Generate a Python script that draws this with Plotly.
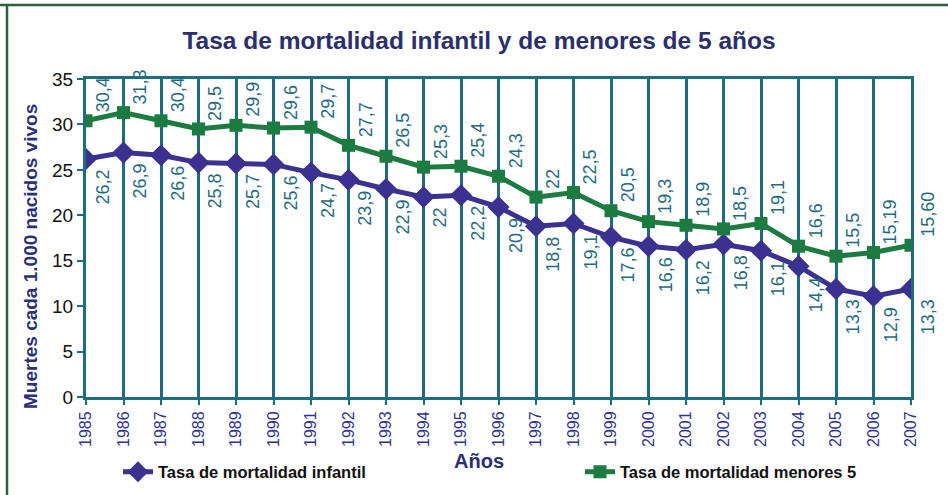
import plotly.graph_objects as go

years = list(range(1985, 2008))
infantil = [26.2, 26.9, 26.6, 25.8, 25.7, 25.6, 24.7, 23.9, 22.9, 22.0, 22.2, 20.9,
            18.8, 19.1, 17.6, 16.6, 16.2, 16.8, 16.1, 14.4, 11.9, 11.1, 11.9]
menores5 = [30.4, 31.3, 30.4, 29.5, 29.9, 29.6, 29.7, 27.7, 26.5, 25.3, 25.4, 24.3,
            22.0, 22.5, 20.5, 19.3, 18.9, 18.5, 19.1, 16.6, 15.5, 15.9, 16.7]
infantil_labels = ["26,2", "26,9", "26,6", "25,8", "25,7", "25,6", "24,7", "23,9", "22,9", "22",
                   "22,2", "20,9", "18,8", "19,1", "17,6", "16,6", "16,2", "16,8", "16,1", "14,4",
                   "13,3", "12,9", "13,3"]
menores5_labels = ["30,4", "31,3", "30,4", "29,5", "29,9", "29,6", "29,7", "27,7", "26,5", "25,3",
                   "25,4", "24,3", "22", "22,5", "20,5", "19,3", "18,9", "18,5", "19,1", "16,6",
                   "15,5", "15,19", "15,60"]

NAVY = "#3a3190"
GREEN = "#1c7b40"
TEAL = "#1f6b80"
FONT = "Liberation Sans, Arial, sans-serif"

fig = go.Figure()
fig.add_trace(go.Scatter(
    x=years, y=infantil, mode="lines+markers", name="Tasa de mortalidad infantil",
    line=dict(color=NAVY, width=5), marker=dict(symbol="diamond", size=17, color=NAVY),
    legend="legend",
))
fig.add_trace(go.Scatter(
    x=years, y=menores5, mode="lines+markers", name="Tasa de mortalidad menores 5",
    line=dict(color=GREEN, width=5), marker=dict(symbol="square", size=13, color=GREEN),
    legend="legend2",
))

ann = []
for x, y, t in zip(years, menores5, menores5_labels):
    ann.append(dict(x=x, y=y, text=t, showarrow=False, textangle=-90,
                    xanchor="left", yanchor="bottom", xshift=5, yshift=6,
                    font=dict(family=FONT, size=18, color=TEAL)))
for x, y, t in zip(years, infantil, infantil_labels):
    ann.append(dict(x=x, y=y, text=t, showarrow=False, textangle=-90,
                    xanchor="left", yanchor="top", xshift=5, yshift=-9,
                    font=dict(family=FONT, size=18, color=TEAL)))

ann.append(dict(xref="paper", yref="paper", x=(479 - 86) / 825, y=(397 - 461) / 318,
                text="<b>Años</b>", showarrow=False, xanchor="center", yanchor="middle",
                font=dict(family=FONT, size=20, color="#2b2f78")))
ann.append(dict(xref="paper", yref="paper", x=(30 - 86) / 825, y=(397 - 257) / 318,
                text="<b>Muertes cada 1.000 nacidos vivos</b>", showarrow=False, textangle=-90,
                xanchor="center", yanchor="middle",
                font=dict(family=FONT, size=19, color="#2b2f78")))

shapes = [
    dict(type="line", xref="paper", yref="paper", x0=(0 - 86) / 825, x1=(948 - 86) / 825,
         y0=(397 - 5) / 318, y1=(397 - 5) / 318, line=dict(color="#2a6040", width=2.5)),
    dict(type="line", xref="paper", yref="paper", x0=(7 - 86) / 825, x1=(7 - 86) / 825,
         y0=(397 - 5) / 318, y1=(397 - 500) / 318, line=dict(color="#2a6040", width=2.5)),
]

legfont = dict(family=FONT, size=16.5, color="#111111", weight="bold")

fig.update_layout(
    width=948, height=495,
    margin=dict(l=86, r=37, t=79, b=98, autoexpand=False),
    paper_bgcolor="white", plot_bgcolor="white",
    title=dict(text="<b>Tasa de mortalidad infantil y de menores de 5 años</b>",
               x=479 / 948, xanchor="center", xref="container",
               y=1 - 40 / 495, yanchor="middle", yref="container",
               font=dict(family=FONT, size=24.5, color="#2b2f6b")),
    showlegend=True,
    legend=dict(orientation="h", x=(118 - 86) / 825, xanchor="left",
                y=(397 - 472) / 318, yanchor="middle",
                font=legfont, bgcolor="rgba(0,0,0,0)"),
    legend2=dict(orientation="h", x=(580 - 86) / 825, xanchor="left",
                 y=(397 - 472) / 318, yanchor="middle",
                 font=legfont, bgcolor="rgba(0,0,0,0)"),
    annotations=ann,
    shapes=shapes,
    font=dict(family=FONT),
)
fig.update_xaxes(range=[1985, 2007], tickmode="array", tickvals=years,
                 ticktext=[str(y) for y in years], tickangle=-90,
                 tickfont=dict(family=FONT, size=16, color="#2e3192"),
                 showgrid=True, gridcolor=TEAL, gridwidth=2.5,
                 showline=True, linecolor=TEAL, linewidth=3, mirror=True,
                 ticks="outside", ticklen=5, tickwidth=2, tickcolor=TEAL,
                 zeroline=False)
fig.update_yaxes(range=[0, 35], tickvals=[0, 5, 10, 15, 20, 25, 30, 35],
                 tickfont=dict(family=FONT, size=19, color="#111111"),
                 showgrid=False, showline=True, linecolor=TEAL, linewidth=3, mirror=True,
                 ticks="outside", ticklen=6, tickwidth=2, tickcolor=TEAL,
                 zeroline=False)

fig.write_html("out.html", config={"displayModeBar": False},
               post_script="document.body.style.margin='0';document.body.style.overflow='hidden';")
